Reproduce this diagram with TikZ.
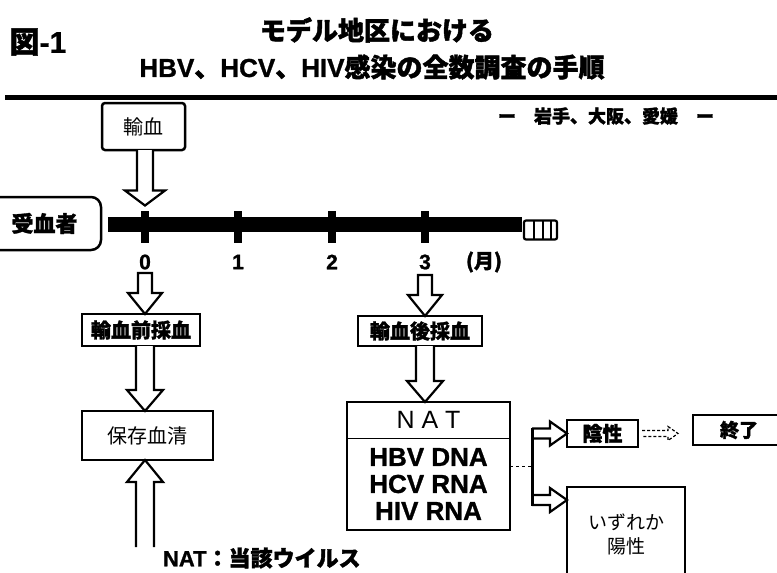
\documentclass[tikz,border=0pt]{standalone}
\usepackage{fontspec}
\setmainfont{Noto Sans CJK JP}[BoldFeatures={FakeBold=1.6}]
\newfontfamily\lat{Liberation Sans}[BoldFeatures={FakeBold=1}]
\usetikzlibrary{calc}
\tikzset{
  every node/.style={inner sep=0pt,outer sep=0pt},
  harr/.style={draw,fill=white,line width=2.2pt,line join=miter},
  thickbox/.style={draw,line width=2.5pt,fill=white},
  thinbox/.style={draw,line width=1.4pt,fill=white},
  bf/.style={font=\bfseries\fontsize{#1}{#1}\selectfont},
  rg/.style={font=\fontsize{#1}{#1}\selectfont},
  latb/.style={font=\lat\bfseries\fontsize{#1}{#1}\selectfont},
}
% hollow arrows: [closing]{start}{tip}{half shaft}{half head}{head length}
\newcommand\arrD[6][]{\draw[harr] let \p1=(#2), \p2=(#3) in (\x2-#4,\y1) -- (\x2-#4,\y2+#6) -- (\x2-#5,\y2+#6) -- (\x2,\y2) -- (\x2+#5,\y2+#6) -- (\x2+#4,\y2+#6) -- (\x2+#4,\y1) #1;}
\newcommand\arrU[6][]{\draw[harr] let \p1=(#2), \p2=(#3) in (\x2-#4,\y1) -- (\x2-#4,\y2-#6) -- (\x2-#5,\y2-#6) -- (\x2,\y2) -- (\x2+#5,\y2-#6) -- (\x2+#4,\y2-#6) -- (\x2+#4,\y1) #1;}
\newcommand\arrR[6][]{\draw[harr] let \p1=(#2), \p2=(#3) in (\x1,\y2+#4) -- (\x2-#6,\y2+#4) -- (\x2-#6,\y2+#5) -- (\x2,\y2) -- (\x2-#6,\y2-#5) -- (\x2-#6,\y2-#4) -- (\x1,\y2-#4) #1;}
\begin{document}
\begin{tikzpicture}[x=1pt,y=-1pt]
\clip (0,0) rectangle (777,573);
\fill[white] (0,0) rectangle (777,573);

% title
\node[bf=30] (fig) at (38,42) {図{\lat\bfseries -1}};
\node[bf=26] (t1) at (377,30) {モデル地区における};
\node[bf=26] (t2) at (372,67) {{\lat\bfseries HBV}、{\lat\bfseries HCV}、{\lat\bfseries HIV}感染の全数調査の手順};
\coordinate (rulel) at (5,97.5);
\coordinate (ruler) at (777,97.5);
\draw[line width=5pt] (rulel) -- (ruler);
\node[bf=18] (area) at (606,116) {ー　岩手、大阪、愛媛　ー};

% top boxes
\node[thickbox, rounded corners=3pt, minimum width=83pt, minimum height=47pt, rg=20] (yuketsu) at (143.5,126.5) {輸血};
\node[thickbox, rounded corners=10pt, minimum width=113pt, minimum height=53pt, bf=22] (juketsu) at (44.5,223.5) {受血者};

% timeline
\node[fill=black, minimum width=414pt, minimum height=15pt] (bar) at (315,224.5) {};
\foreach \i/\xx in {0/145,1/238,2/332,3/425}{
  \coordinate (t\i) at (\xx,224.5);
  \fill ($(t\i)+(-4,-13.5)$) rectangle ($(t\i)+(4,18.5)$);
  \node[latb=21] (l\i) at (\xx,262) {\i};
}
\node[bf=20] (month) at (484,262) {(月)};
\node[draw, line width=2.2pt, rounded corners=2pt, minimum width=33pt, minimum height=19pt] (brk) at (540.5,230) {};
\foreach \f in {0.3,0.58,0.82}{
  \draw[line width=2pt] ($(brk.south west)!\f!(brk.south east)$) -- ($(brk.north west)!\f!(brk.north east)$);
}

% left column
\node[thickbox, minimum width=118pt, minimum height=32pt, bf=20] (pre) at (141,330) {輸血前採血};
\node[thinbox, line width=1.6pt, minimum width=131pt, minimum height=49pt, rg=20] (hozon) at (147.5,435.5) {保存血清};
\coordinate (natbot) at (147,547);
\node[anchor=west, bf=22] (note) at (163,558) {{\lat\bfseries NAT}：当該ウイルス};

% right column
\node[thickbox, minimum width=124pt, minimum height=30pt, bf=20] (post) at (420,331) {輸血後採血};
\node[thinbox, minimum width=163pt, minimum height=128pt] (nat) at (428.5,466) {};
\coordinate (divy) at (0,438);
\draw[line width=1pt] (nat.west |- divy) -- (nat.east |- divy);
\node[font=\lat\fontsize{25}{25}\selectfont] (nathead) at (428.5,420) {N\hspace{7pt}A\hspace{7pt}T};
\node[font=\lat\bfseries\fontsize{26}{27}\selectfont, align=center] (natlist) at (428.5,484) {HBV DNA\\HCV RNA\\HIV RNA};

\node[draw, line width=2pt, fill=white, minimum width=71pt, minimum height=27pt, bf=20] (neg) at (602.5,433.5) {陰性};
\node[thickbox, minimum width=92pt, minimum height=30pt, bf=19] (fin) at (739,430) {終了};
\node[draw, line width=2pt, fill=white, minimum width=118pt, minimum height=113pt] (pos) at (626,543.5) {};
\node[font=\fontsize{19}{24}\selectfont, align=center] (postext) at (626,534) {いずれか\\陽性};

% arrows
\arrD{yuketsu.south}{$(t0)+(0,-19)$}{8pt}{20pt}{15pt}
\arrD[-- cycle]{$(l0)+(0,11)$}{l0 |- pre.north}{7pt}{17pt}{21pt}
\arrD{l0 |- pre.south}{l0 |- hozon.north}{9pt}{18pt}{21pt}
\arrU{natbot}{l0 |- hozon.south}{9pt}{18pt}{22pt}
\arrD[-- cycle]{$(l3)+(0,13)$}{l3 |- post.north}{7pt}{17pt}{21pt}
\arrD{l3 |- post.south}{l3 |- nat.north}{9pt}{18pt}{21pt}

\coordinate (fork) at (532,466);
\coordinate (lowtip) at ($(pos.north west)+(0,13)$);
\draw[dashed, line width=1pt] (nat.east) -- (fork);
\arrR{fork |- neg.west}{neg.west}{5pt}{12pt}{17pt}
\arrR{fork |- lowtip}{lowtip}{5pt}{12pt}{17pt}
\draw[line width=3pt] ($(fork |- neg.west)+(0,-6)$) -- ($(fork |- lowtip)+(0,6)$);

\draw[line width=1.2pt, dash pattern=on 3pt off 2pt, fill=white] let \p1=($(neg.east)+(4,0)$), \p2=($(fin.west |- neg.east)+(-15,0)$) in
  (\x1,\y2+3pt) -- (\x2-10pt,\y2+3pt) -- (\x2-10pt,\y2+7pt) -- (\x2,\y2) -- (\x2-10pt,\y2-7pt) -- (\x2-10pt,\y2-3pt) -- (\x1,\y2-3pt);
\end{tikzpicture}
\end{document}
